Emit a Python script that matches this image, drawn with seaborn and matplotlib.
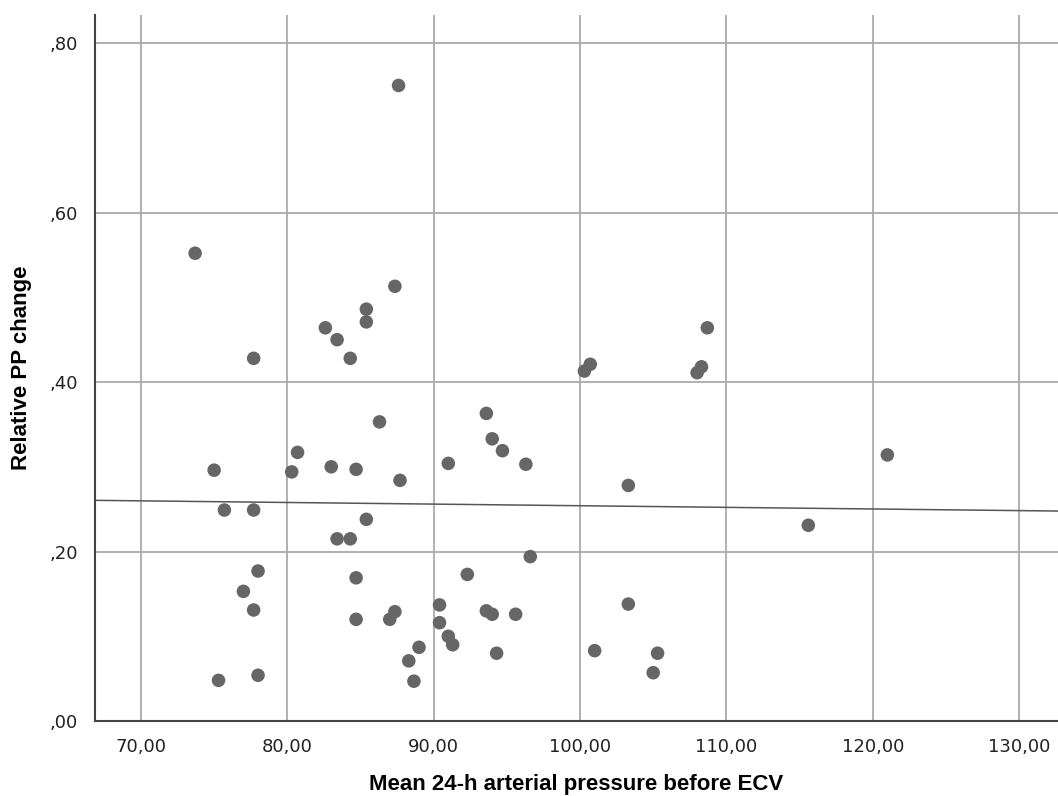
import numpy as np
import pandas as pd
import seaborn as sns
import matplotlib.pyplot as plt
from matplotlib.ticker import FuncFormatter

# waarden
map_24h = [87.6, 73.7, 87.35, 85.4, 85.4, 82.6, 83.4, 77.7, 84.3, 108.7,
           108.3, 108.0, 100.7, 100.3, 86.3, 93.6, 94.0, 94.7, 96.3, 91.0,
           80.7, 80.3, 83.0, 84.7, 75.0, 87.7, 103.3, 121.0, 75.7, 77.7,
           85.4, 115.6, 83.4, 84.3, 96.6, 78.0, 92.3, 84.7, 77.0, 77.7,
           90.4, 103.3, 93.6, 94.0, 95.6, 87.35, 87.0, 84.7, 90.4, 91.0,
           91.3, 89.0, 88.3, 94.3, 101.0, 105.3, 105.0, 75.3, 78.0, 88.65]
pp_change = [0.750, 0.552, 0.513, 0.486, 0.471, 0.464, 0.450, 0.428, 0.428, 0.464,
             0.418, 0.411, 0.421, 0.413, 0.353, 0.363, 0.333, 0.319, 0.303, 0.304,
             0.317, 0.294, 0.300, 0.297, 0.296, 0.284, 0.278, 0.314, 0.249, 0.249,
             0.238, 0.231, 0.215, 0.215, 0.194, 0.177, 0.173, 0.169, 0.153, 0.131,
             0.137, 0.138, 0.130, 0.126, 0.126, 0.129, 0.120, 0.120, 0.116, 0.100,
             0.090, 0.087, 0.071, 0.080, 0.083, 0.080, 0.057, 0.048, 0.054, 0.047]

df = pd.DataFrame({'map': map_24h, 'pp': pp_change})

fig = plt.figure(figsize=(10.58, 7.96), dpi=100)
ax = fig.add_axes([0.0898, 0.0942, 0.9102, 0.8868])

ax.set_xlim(66.86, 132.66)
ax.set_ylim(0, 0.833)

sns.regplot(data=df, x='map', y='pp', ax=ax, ci=None, truncate=False,
            scatter_kws=dict(s=95, color='#666666', alpha=1, edgecolor='none', zorder=3),
            line_kws=dict(color='#555555', lw=1.1, zorder=2))

ax.set_xlim(66.86, 132.66)
ax.set_ylim(0, 0.833)
ax.set_xticks([70, 80, 90, 100, 110, 120, 130])
ax.set_yticks([0, 0.2, 0.4, 0.6, 0.8])
ax.xaxis.set_major_formatter(FuncFormatter(lambda v, p: f'{v:.2f}'.replace('.', ',')))
ax.yaxis.set_major_formatter(FuncFormatter(lambda v, p: f'{v:.2f}'.replace('0.', ',', 1)))
ax.grid(True, color='#aaaaaa', lw=1.3)
ax.set_axisbelow(True)
ax.tick_params(length=0, labelsize=13, colors='#222222', pad=12)
for s in ['top', 'right']:
    ax.spines[s].set_visible(False)
for s in ['left', 'bottom']:
    ax.spines[s].set_color('#444444')
    ax.spines[s].set_linewidth(1.5)

ax.set_xlabel('Mean 24-h arterial pressure before ECV', fontsize=16, fontweight='bold',
              family='Liberation Sans', labelpad=13)
ax.set_ylabel('Relative PP change', fontsize=16, fontweight='bold',
              family='Liberation Sans', labelpad=13)

fig.savefig('out.png', dpi=100)
